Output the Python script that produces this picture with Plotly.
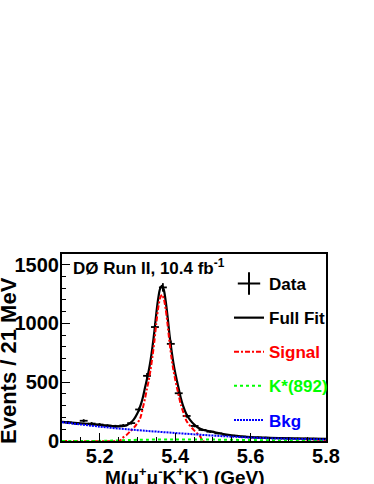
import numpy as np
import plotly.graph_objects as go

# ---- data ----
bin_centers = [5.1155, 5.1365, 5.1575, 5.1785, 5.1995, 5.2205, 5.2415, 5.2625, 5.2835,
               5.3045, 5.3255, 5.3465, 5.3675, 5.3885, 5.4095, 5.4305, 5.4515, 5.4725,
               5.4935, 5.5145, 5.5355, 5.5565, 5.5775, 5.5985, 5.6195, 5.6405, 5.6615,
               5.6825, 5.7035, 5.7245, 5.7455, 5.7665, 5.7875]
counts = [158, 148, 172, 148, 140, 130, 126, 132, 152,
          268, 554, 969, 1306, 826, 406, 213, 128, 94,
          79, 65, 52, 44, 37, 32, 30, 27, 26,
          24, 22, 21, 20, 19, 18]
bin_half_width = 0.0105

fit_x = [5.10, 5.15, 5.20, 5.23, 5.25, 5.265, 5.28, 5.29, 5.30, 5.305, 5.31, 5.315, 5.32,
         5.325, 5.33, 5.335, 5.34, 5.345, 5.35, 5.355, 5.36, 5.365, 5.37, 5.375, 5.38,
         5.385, 5.39, 5.395, 5.40, 5.405, 5.41, 5.415, 5.42, 5.43, 5.44, 5.45, 5.46,
         5.475, 5.50, 5.52, 5.55, 5.60, 5.65, 5.70, 5.75, 5.80]
fit_y = [163, 150, 137, 128, 124, 128, 150, 182, 236, 275, 320, 378, 452,
         522, 598, 690, 802, 935, 1083, 1210, 1293, 1320, 1285, 1188, 1055,
         905, 778, 670, 582, 508, 437, 365, 310, 228, 178, 142, 115,
         94, 78, 64, 48, 33, 27, 23, 20, 18]

sig_x = [5.10, 5.25, 5.255, 5.26, 5.271, 5.28, 5.293, 5.307, 5.315, 5.32, 5.325, 5.33,
         5.335, 5.34, 5.345, 5.35, 5.355, 5.36, 5.365, 5.37, 5.375, 5.38, 5.385, 5.39,
         5.395, 5.40, 5.405, 5.41, 5.415, 5.431, 5.449, 5.467, 5.472, 5.80]
sig_y = [0, 0, 5, 25, 51, 80, 122, 190, 290, 360, 440, 515,
         610, 720, 850, 1000, 1130, 1215, 1244, 1210, 1120, 990, 840, 715,
         610, 525, 450, 380, 310, 165, 94, 37, 0, 0]

kst_x = [5.10, 5.20, 5.25, 5.30, 5.40, 5.50, 5.60, 5.70, 5.80]
kst_y = [0, 1, 5, 10, 13, 12, 8, 4, 2]

bkg_x = [5.10, 5.20, 5.30, 5.35, 5.40, 5.45, 5.50, 5.55, 5.60, 5.65, 5.70, 5.75, 5.80]
bkg_y = [160, 122, 92, 80, 68, 57, 46, 37, 29, 23, 19, 16, 13]

x_range = [5.1, 5.8]
y_range = [0, 1590]

FONT = "Liberation Sans, Arial, sans-serif"

fig = go.Figure()

# legend-only Data symbol
fig.add_trace(go.Scatter(
    x=[None], y=[None], mode="markers", name="Data", legendgroup="a",
    marker=dict(symbol="cross-thin", size=16, line=dict(width=2, color="black"), color="black"),
))

fig.add_trace(go.Scatter(
    x=bin_centers, y=counts, mode="markers", showlegend=False,
    marker=dict(size=2, color="black"),
    error_y=dict(type="data", array=list(np.sqrt(counts)), thickness=1.8, width=0, color="black"),
    error_x=dict(type="constant", value=bin_half_width, thickness=1.8, width=0, color="black"),
))

fig.add_trace(go.Scatter(
    x=fit_x, y=fit_y, mode="lines", name="Full Fit", legendgroup="b",
    line=dict(color="black", width=2.2, shape="spline", smoothing=0.8),
))
fig.add_trace(go.Scatter(
    x=sig_x, y=sig_y, mode="lines", name="<span style='color:#ff0000'>Signal</span>",
    legendgroup="c",
    line=dict(color="#ff0000", width=2, dash="5px,2px,2px,2px", shape="spline", smoothing=0.6),
))
fig.add_trace(go.Scatter(
    x=kst_x, y=kst_y, mode="lines", name="<span style='color:#00ff00'>K*(892)</span>",
    legendgroup="d",
    line=dict(color="#00ff00", width=2, dash="dot", shape="spline"),
))
fig.add_trace(go.Scatter(
    x=bkg_x, y=bkg_y, mode="lines", name="<span style='color:#0000ff'>Bkg</span>",
    legendgroup="e",
    line=dict(color="#0000ff", width=2, dash="2px,1px", shape="spline"),
))

L, R, T, B = 62, 48, 254, 43
W, H = 374, 484
pw, ph = W - L - R, H - T - B


def px(xp):
    return (xp - L) / pw


def py(yp):
    return (H - B - yp) / ph


fig.update_layout(
    width=W, height=H,
    margin=dict(l=L, r=R, t=T, b=B, autoexpand=False),
    paper_bgcolor="white", plot_bgcolor="white",
    font=dict(family=FONT, size=17, color="black", weight="bold"),
    showlegend=True,
    legend=dict(
        x=px(229), y=py(266), xanchor="left", yanchor="top",
        bgcolor="rgba(0,0,0,0)", borderwidth=0,
        font=dict(family=FONT, size=17, color="black", weight="bold"),
        tracegroupgap=9, itemwidth=30,
    ),
    xaxis=dict(
        range=x_range, tick0=5.0, dtick=0.2, tickformat=".1f",
        showgrid=False, zeroline=False,
        showline=True, linecolor="black", linewidth=2, mirror=True,
        ticks="inside", ticklen=8, tickwidth=1.2, tickcolor="black",
        minor=dict(dtick=0.05, ticks="inside", ticklen=4, tickcolor="black", tickwidth=1.2),
        tickfont=dict(family=FONT, size=20, weight="bold"),
        ticklabelstandoff=-4,
    ),
    yaxis=dict(
        range=y_range, tick0=0, dtick=500,
        showgrid=False, zeroline=False,
        showline=True, linecolor="black", linewidth=2, mirror=True,
        ticks="inside", ticklen=8, tickwidth=1.2, tickcolor="black",
        minor=dict(dtick=100, ticks="inside", ticklen=4, tickcolor="black", tickwidth=1.2),
        tickfont=dict(family=FONT, size=20, weight="bold"),
        ticklabelstandoff=-3,
    ),
    annotations=[
        dict(text="DØ Run II, 10.4 fb<sup>-1</sup>", xref="paper", yref="paper",
             x=px(71), y=py(267), xanchor="left", yanchor="middle", showarrow=False,
             font=dict(family=FONT, size=17, weight="bold")),
        dict(text="M(μ<sup>+</sup>μ<sup>-</sup>K<sup>+</sup>K<sup>-</sup>) (GeV)",
             xref="paper", yref="paper", x=px(185), y=py(476),
             xanchor="center", yanchor="middle", showarrow=False,
             font=dict(family=FONT, size=19, weight="bold")),
        dict(text="Events / 21 MeV", xref="paper", yref="paper", x=px(8), y=py(361),
             xanchor="center", yanchor="middle", textangle=-90, showarrow=False,
             font=dict(family=FONT, size=22, weight="bold")),
    ],
)

fig.write_html(
    "out.html",
    config={"displayModeBar": False},
    post_script="document.body.style.margin='0';document.body.style.overflow='hidden';",
)
